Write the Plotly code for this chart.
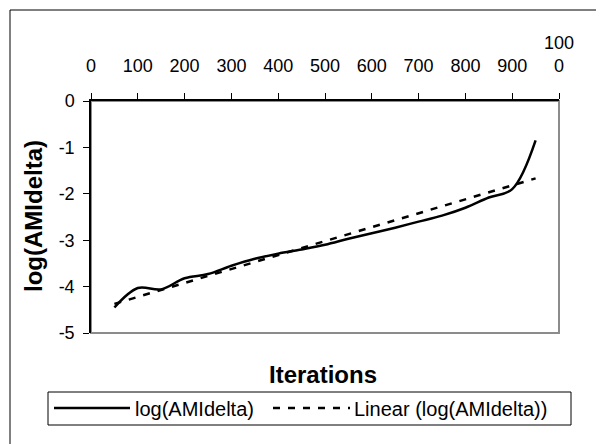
import numpy as np
import plotly.graph_objects as go

# ---- data ----
iterations = [50, 100, 150, 200, 250, 300, 350, 400, 450, 500,
              550, 600, 650, 700, 750, 800, 850, 900, 950]
log_ami_delta = [-4.45, -4.03, -4.06, -3.82, -3.73, -3.55, -3.40, -3.29, -3.20, -3.10,
                 -2.97, -2.85, -2.73, -2.60, -2.47, -2.30, -2.08, -1.90, -0.85]
x_tickvals = [0, 100, 200, 300, 400, 500, 600, 700, 800, 900, 1000]
x_ticktext = ["0", "100", "200", "300", "400", "500", "600", "700", "800", "900", "100<br>0"]
y_tickvals = [0, -1, -2, -3, -4, -5]
y_ticktext = ["0", "-1", "-2", "-3", "-4", "-5"]
series_name = "log(AMIdelta)"
trend_name = "Linear (log(AMIdelta))"

# linear trendline (least squares), as the spreadsheet does
slope, intercept = np.polyfit(iterations, log_ami_delta, 1)
trend = [slope * x + intercept for x in iterations]

OFF = 8  # page body margin
W, H = 604 - OFF, 444 - OFF
# plot area in window pixels
L, R, T, B = 91, 559, 101, 333


def px(xp):
    return (xp - L) / (R - L)


def py(yp):
    return (B - yp) / (B - T)


FONT = "Arial, Liberation Sans, sans-serif"

fig = go.Figure()
fig.add_trace(go.Scatter(x=iterations, y=trend, mode="lines", name=trend_name,
                         line=dict(color="black", width=2.5, dash="7px,8px"),
                         showlegend=False, hoverinfo="skip"))
fig.add_trace(go.Scatter(x=iterations, y=log_ami_delta, mode="lines", name=series_name,
                         line=dict(color="black", width=2.5, shape="spline", smoothing=1),
                         showlegend=False))

shapes = [
    # outer chart border (cropped on right/bottom)
    dict(type="rect", xref="paper", yref="paper", x0=px(10), x1=px(640), y0=py(10), y1=py(480),
         line=dict(color="black", width=1), layer="below"),
    # plot area border (gray)
    dict(type="rect", xref="paper", yref="paper", x0=0, x1=1, y0=0, y1=1,
         line=dict(color="#8c8c8c", width=2), layer="below"),
    # legend box
    dict(type="rect", xref="paper", yref="paper", x0=px(48), x1=px(571), y0=py(392), y1=py(425),
         line=dict(color="black", width=1)),
    dict(type="line", xref="paper", yref="paper", x0=px(54), x1=px(130), y0=py(408), y1=py(408),
         line=dict(color="black", width=2.5)),
    dict(type="line", xref="paper", yref="paper", x0=px(273), x1=px(350), y0=py(408), y1=py(408),
         line=dict(color="black", width=2.5, dash="7px,8px")),
]

annotations = [
    dict(text="<b>Iterations</b>", xref="paper", yref="paper", x=px(323), y=py(374),
         xanchor="center", yanchor="middle", showarrow=False,
         font=dict(family=FONT, size=24, color="black")),
    dict(text="<b>log(AMIdelta)</b>", xref="paper", yref="paper", x=px(33), y=py(216),
         xanchor="center", yanchor="middle", showarrow=False, textangle=-90,
         font=dict(family=FONT, size=24, color="black")),
    dict(text=series_name, xref="paper", yref="paper", x=px(133), y=py(408.5),
         xanchor="left", yanchor="middle", showarrow=False,
         font=dict(family=FONT, size=20, color="black")),
    dict(text=trend_name, xref="paper", yref="paper", x=px(352), y=py(408.5),
         xanchor="left", yanchor="middle", showarrow=False,
         font=dict(family=FONT, size=20, color="black")),
]

fig.update_layout(
    width=W, height=H, autosize=False,
    margin=dict(l=L - OFF, r=(W + OFF) - R, t=T - OFF, b=(H + OFF) - B, pad=0),
    paper_bgcolor="white", plot_bgcolor="white",
    font=dict(family=FONT, color="black"),
    shapes=shapes, annotations=annotations,
    showlegend=False,
    xaxis=dict(side="top", range=[0, 1000], tickvals=x_tickvals, ticktext=x_ticktext,
               ticks="outside", ticklen=6, tickwidth=1, tickcolor="black",
               ticklabelstandoff=14,
               showline=True, linecolor="black", linewidth=1.5,
               showgrid=False, zeroline=False,
               tickfont=dict(family=FONT, size=18, color="black")),
    yaxis=dict(range=[-5, 0], tickvals=y_tickvals, ticktext=y_ticktext,
               ticks="outside", ticklen=6, tickwidth=1, tickcolor="black",
               ticklabelstandoff=5,
               showline=True, linecolor="black", linewidth=1.5,
               showgrid=False, zeroline=False,
               tickfont=dict(family=FONT, size=18, color="black")),
)

fig.write_html("out.html")
